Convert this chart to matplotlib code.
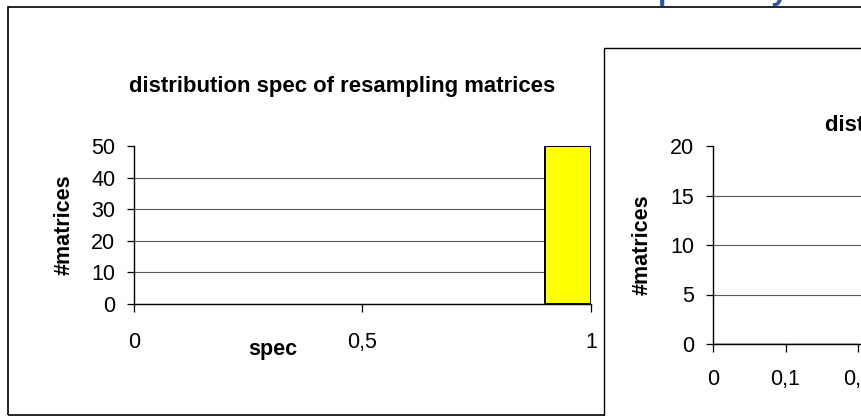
import matplotlib
matplotlib.use("Agg")
import matplotlib.pyplot as plt
from matplotlib.patches import Rectangle

plt.rcParams['font.family'] = ['Liberation Sans', 'DejaVu Sans']

# histogram of specificity over the resampling matrices
spec_bin_left = [0.9]
spec_counts = [50]
spec_xticks = [0, 0.5, 1]
spec_xticklabels = ['0', '0,5', '1']
spec_yticks = [0, 10, 20, 30, 40, 50]

# second histogram (only the low bins are on screen, all empty)
sens_bin_left = [0.0, 0.1]
sens_counts = [0, 0]
sens_xticks = [0, 0.1, 0.2, 0.3, 0.4, 0.5, 0.6, 0.7, 0.8, 0.9, 1.0]
sens_xticklabels = ['0', '0,1', '0,2', '0,3', '0,4', '0,5', '0,6', '0,7', '0,8', '0,9', '1']
sens_yticks = [0, 5, 10, 15, 20]

W, H = 861, 416
FS = 15.5
TITLE_FS = 15.9


def fx(px):
    return px / W


def fy(py):
    return 1 - py / H


def style_axes(ax, xpad):
    ax.set_facecolor('white')
    for side in ['top', 'right']:
        ax.spines[side].set_visible(False)
    for side in ['left', 'bottom']:
        ax.spines[side].set_color('black')
        ax.spines[side].set_linewidth(1.0)
    ax.tick_params(axis='y', direction='out', length=5, width=0.9, pad=8.5, labelsize=FS)
    ax.tick_params(axis='x', direction='out', length=5.5, width=0.9, pad=xpad, labelsize=FS)
    ax.yaxis.grid(True, color='#5a5a5a', linewidth=0.8)
    ax.set_axisbelow(True)
    # no gridline along the top of the plot area
    ax.get_ygridlines()[-1].set_visible(False)


fig = plt.figure(figsize=(W / 100, H / 100), dpi=100)
fig.patch.set_facecolor('white')

# slide title, mostly running off the top
fig.text(fx(638), 1.0, 'Specificity', fontsize=21.6, fontweight='bold',
         color='#2b55a8', ha='left', va='baseline')

# outer frame of the first chart
fig.patches.append(Rectangle((fx(8), fy(415)), (950 - 8) / W, (415 - 7) / H,
                             transform=fig.transFigure, fill=False,
                             edgecolor='black', linewidth=1.2, zorder=1))

# first chart
ax1 = fig.add_axes([fx(134), fy(304), (591 - 134) / W, (304 - 146) / H], zorder=1.2)
ax1.bar(spec_bin_left, spec_counts, width=0.1, align='edge',
        color='#ffff00', edgecolor='black', linewidth=1.4, zorder=3)
ax1.set_xlim(0, 1)
ax1.set_ylim(0, 50)
ax1.set_xticks(spec_xticks)
ax1.set_xticklabels(spec_xticklabels)
ax1.set_yticks(spec_yticks)
style_axes(ax1, 14.5)
ax1.set_ylabel('#matrices', fontsize=FS, fontweight='bold', va='center')
ax1.yaxis.set_label_coords((64 - 134) / (591 - 134), 0.5)
ax1.set_xlabel('spec', fontsize=FS, fontweight='bold', va='baseline')
ax1.xaxis.set_label_coords((273 - 134) / (591 - 134), (304 - 355) / (304 - 146))
fig.text(fx(342), fy(92), 'distribution spec of resampling matrices',
         fontsize=TITLE_FS, fontweight='bold', ha='center', va='baseline')

# frame of the second chart, laid over the first one
fig.patches.append(Rectangle((fx(604), fy(450)), (1000 - 604) / W, (450 - 48) / H,
                             transform=fig.transFigure, facecolor='white',
                             edgecolor='black', linewidth=1.0, zorder=1.5))

# second chart
ax2 = fig.add_axes([fx(713), fy(344), 725 / W, (344 - 146) / H], zorder=2)
ax2.bar(sens_bin_left, sens_counts, width=0.1, align='edge',
        color='#ffff00', edgecolor='black', linewidth=1.0, zorder=3)
ax2.set_xlim(0, 1)
ax2.set_ylim(0, 20)
ax2.set_xticks(sens_xticks)
ax2.set_xticklabels(sens_xticklabels)
ax2.set_yticks(sens_yticks)
style_axes(ax2, 12.5)
ax2.set_ylabel('#matrices', fontsize=FS, fontweight='bold', va='center')
ax2.yaxis.set_label_coords((642 - 713) / 725, 0.5)
fig.text(fx(825), fy(131), 'distribution sens of resampling matrices',
         fontsize=TITLE_FS, fontweight='bold', ha='left', va='baseline', zorder=3)

fig.savefig('out.png', dpi=100)
